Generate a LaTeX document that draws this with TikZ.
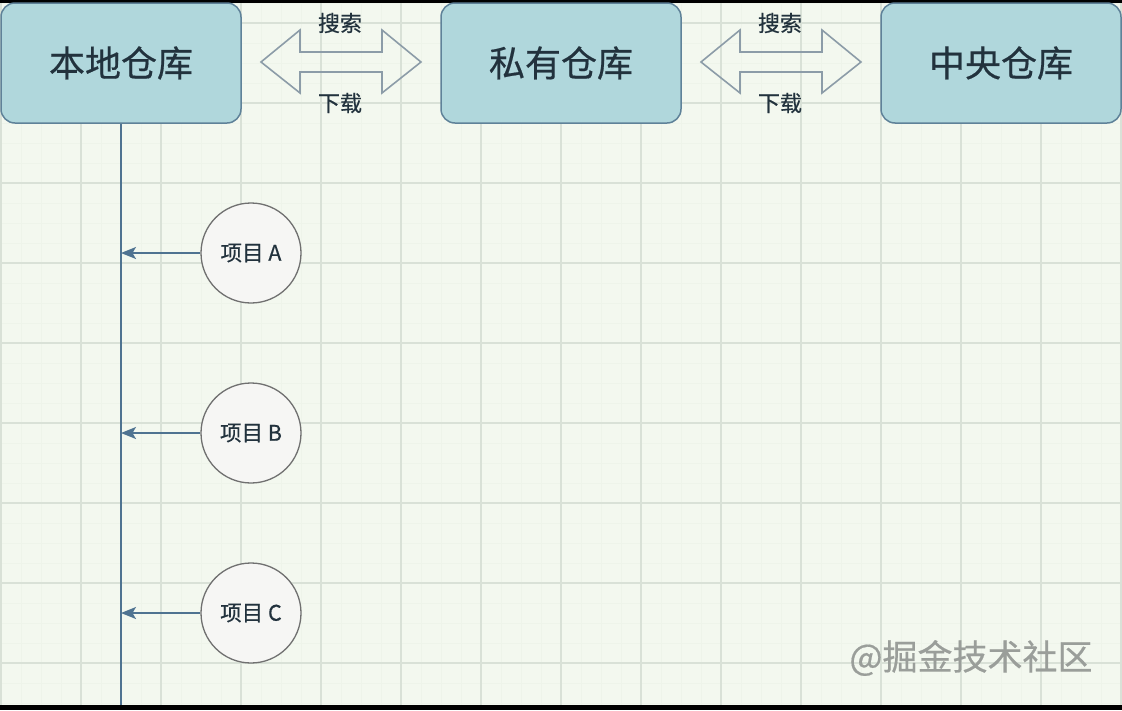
\documentclass[tikz,border=0pt]{standalone}
\usepackage{fontspec}
\setmainfont{Noto Sans CJK SC}
\newfontfamily\heavycjk[FakeBold=0.5]{Noto Sans CJK SC}
\usetikzlibrary{arrows.meta,calc}
\definecolor{bgc}{HTML}{F3F8EF}
\definecolor{gridmaj}{HTML}{D9E1D7}
\definecolor{gridmin}{HTML}{EEF4EA}
\definecolor{boxfill}{HTML}{B0D7DC}
\definecolor{boxdraw}{HTML}{5F8299}
\definecolor{txt}{HTML}{22323D}
\definecolor{dblarr}{HTML}{8C9CA8}
\definecolor{linec}{HTML}{4F7391}
\definecolor{circfill}{HTML}{F6F6F4}
\definecolor{circdraw}{HTML}{707070}
\definecolor{wmark}{HTML}{9A9E9A}
\tikzset{
  repo/.style={draw=boxdraw, fill=boxfill, line width=1.5pt, rounded corners=14pt,
    minimum width=240pt, minimum height=120pt, inner sep=0pt, text=txt,
    font=\heavycjk\fontsize{36}{40}\selectfont},
  lbl/.style={text=txt, font=\heavycjk\fontsize{22}{24}\selectfont, inner sep=0pt},
  proj/.style={circle, draw=circdraw, fill=circfill, line width=1.3pt,
    minimum size=100pt, inner sep=0pt, text=txt, font=\heavycjk\fontsize{21.5}{24}\selectfont},
  dblshape/.style={draw=dblarr, line width=1.6pt, line join=miter},
  feed/.style={draw=linec, line width=1.5pt, -{Stealth[length=15pt,width=12pt,inset=3.5pt]}},
  trunk/.style={draw=linec, line width=1.5pt}
}
\begin{document}
\begin{tikzpicture}[x=1pt,y=-1pt]
  \useasboundingbox (0,0) rectangle (1122,710);
  \fill[bgc] (0,0) rectangle (1122,710);
  % grid
  \foreach \x in {1,21,...,1121} \draw[gridmin, line width=0.8pt] (\x,3) -- (\x,705);
  \foreach \y in {3,23,...,703} \draw[gridmin, line width=0.8pt] (0,\y) -- (1122,\y);
  \foreach \x in {1,81,...,1121} \draw[gridmaj, line width=1.3pt] (\x,3) -- (\x,705);
  \foreach \y in {23,103,...,703} \draw[gridmaj, line width=1.3pt] (0,\y) -- (1122,\y);
  % black bands
  \fill[black] (0,0) rectangle (1122,3);
  \fill[black] (0,705) rectangle (1122,710);

  % repositories
  \node[repo] (local) at (121,63) {本地仓库};
  \node[repo] (private) at (561,63) {私有仓库};
  \node[repo] (central) at (1001,63) {中央仓库};

  % double arrows
  \draw[dblshape] (261,62) -- (300,30) -- (300,52) -- (382,52) -- (382,30) -- (421,62)
     -- (382,93) -- (382,72) -- (300,72) -- (300,93) -- cycle;
  \draw[dblshape] (701,62) -- (740,30) -- (740,52) -- (822,52) -- (822,30) -- (861,62)
     -- (822,93) -- (822,72) -- (740,72) -- (740,93) -- cycle;
  \node[lbl] (search1) at (340,23) {搜索};
  \node[lbl] (down1) at (340,103) {下载};
  \node[lbl] (search2) at (780,23) {搜索};
  \node[lbl] (down2) at (780,103) {下载};

  % trunk line
  \coordinate (trunkend) at (121,705);
  \draw[trunk] (local.south) -- (trunkend);

  % projects
  \node[proj] (pa) at (251,253) {项目 A};
  \node[proj] (pb) at (251,433) {项目 B};
  \node[proj] (pc) at (251,613) {项目 C};
  \draw[feed] (pa.west) -- (pa.west -| local.south);
  \draw[feed] (pb.west) -- (pb.west -| local.south);
  \draw[feed] (pc.west) -- (pc.west -| local.south);

  % watermark
  \node[text=wmark, font=\heavycjk\fontsize{35}{38}\selectfont, inner sep=0pt] (wm) at (971,658) {@掘金技术社区};
\end{tikzpicture}
\end{document}
